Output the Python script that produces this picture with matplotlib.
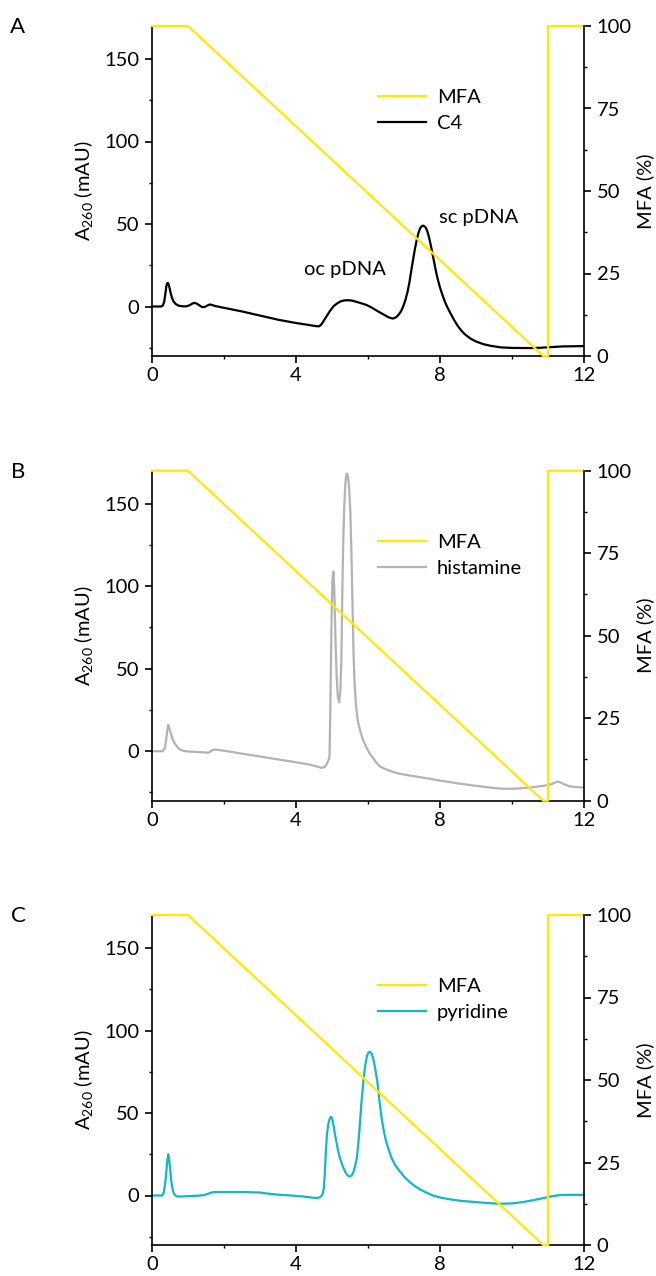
import matplotlib
matplotlib.use('Agg')
import matplotlib.pyplot as plt
from matplotlib.lines import Line2D
from matplotlib.ticker import MultipleLocator

plt.rcParams['font.family'] = ['Lato', 'DejaVu Sans']
plt.rcParams['mathtext.fontset'] = 'custom'
plt.rcParams['mathtext.rm'] = 'Lato'
plt.rcParams['mathtext.it'] = 'Lato:italic'
plt.rcParams['mathtext.bf'] = 'Lato:bold'

# ---------------- data ----------------
mfa_time = [0, 1, 10.87, 11.0, 11.0, 12]
mfa_pct = [100, 100, 0, 0, 100, 100]

c4_time = [0, 0.25, 0.30, 0.34, 0.37, 0.40, 0.42, 0.44, 0.46, 0.49, 0.52, 0.56, 0.60, 0.66,
           0.74, 0.85, 0.95, 1.05, 1.12, 1.18, 1.24, 1.32, 1.40, 1.47, 1.54, 1.60, 1.66,
           1.75, 2.0, 2.5, 3.0, 3.5, 4.0, 4.3, 4.55, 4.64, 4.70, 4.76, 4.85, 4.95, 5.05,
           5.15, 5.25, 5.35, 5.45, 5.55, 5.7, 5.85, 5.96, 6.1, 6.25, 6.43, 6.55, 6.63, 6.70,
           6.78, 6.85, 6.92, 6.98, 7.04, 7.1, 7.15, 7.2, 7.25, 7.3, 7.35, 7.4, 7.45, 7.5,
           7.54, 7.6, 7.65, 7.7, 7.75, 7.8, 7.85, 7.9, 7.95, 8.0, 8.05, 8.1, 8.15, 8.2, 8.3,
           8.4, 8.5, 8.6, 8.7, 8.85, 9.0, 9.2, 9.4, 9.7, 10.0, 10.5, 10.8, 11.1, 11.4, 12.0]
c4_mau = [0, 0, 0.5, 3, 7.5, 12.5, 14, 14.3, 13.5, 11, 8, 5, 3, 1.5,
          0.5, 0.1, 0.1, 0.8, 1.8, 2.2, 1.8, 0.6, -0.4, -0.2, 0.6, 1.2, 1.0,
          0.3, -0.8, -3, -5.5, -8, -10, -11, -11.9, -12, -11, -9, -5.9, -2.5, 0.3,
          2, 3.2, 3.7, 3.8, 3.6, 2.7, 1.7, 0.9, -0.6, -2.6, -4.8, -6.3, -7, -7.3,
          -6.5, -5, -2.8, 0.2, 4, 9, 14.5, 21.5, 28, 34.5, 40, 44.5, 47.5, 48.8,
          49, 48, 45.5, 41.5, 36.5, 31, 25.5, 20, 15.5, 11.5, 8.2, 5, 2.2, -0.3, -4.5,
          -8.5, -12, -14.8, -17, -19.5, -21.2, -22.8, -23.8, -24.8, -25.1, -25.2, -25, -24.6, -24.2, -24]

his_time = [0, 0.3, 0.36, 0.40, 0.43, 0.45, 0.47, 0.50, 0.54, 0.58, 0.63, 0.70, 0.78, 0.87,
            1.0, 1.3, 1.5, 1.56, 1.62, 1.68, 1.75, 1.9, 2.2, 2.5, 3.0, 3.5, 4.0, 4.4, 4.6,
            4.71, 4.8, 4.86, 4.90, 4.93, 4.95, 4.97, 4.99, 5.01, 5.04, 5.06, 5.08, 5.10,
            5.13, 5.16, 5.20, 5.23, 5.26, 5.29, 5.31, 5.34, 5.37, 5.40, 5.42, 5.45, 5.48,
            5.51, 5.54, 5.57, 5.60, 5.63, 5.67, 5.72, 5.80, 5.87, 5.95, 6.05, 6.15, 6.25,
            6.35, 6.5, 6.7, 6.89, 7.2, 7.44, 8.0, 8.5, 9.0, 9.5, 9.76, 10.1, 10.5, 10.87,
            11.1, 11.2, 11.27, 11.35, 11.45, 11.6, 11.8, 12.0]
his_mau = [0, 0, 2, 8, 13.5, 15.9, 15, 12.5, 9.5, 7, 4.8, 2.6, 1.0, 0.2,
           -0.2, -0.5, -0.8, -1, -0.2, 0.7, 1, 0.6, -0.4, -1.5, -3.2, -5, -6.7, -8.2, -9.4,
           -10.1, -9.5, -7.5, -5.5, -3.6, 20, 53, 82, 103, 108.9, 100, 83, 65,
           45, 33, 29.6, 36, 55, 100, 125, 148, 162, 167.5, 168.2, 166, 158,
           145, 120, 88, 58, 40, 27, 18, 11, 6.4, 2.5, -1.5, -4.5, -7.5,
           -9.5, -11, -12.6, -13.7, -14.9, -15.7, -17.8, -19.5, -21, -22.3, -22.8, -22.7, -22, -21,
           -20, -19, -18.4, -19, -20, -21.3, -21.8, -22]

pyr_time = [0, 0.28, 0.33, 0.37, 0.40, 0.43, 0.45, 0.47, 0.50, 0.53, 0.56, 0.60, 0.65, 0.70,
            0.8, 1.0, 1.3, 1.45, 1.55, 1.65, 1.75, 2.0, 2.5, 3.0, 3.2, 3.5, 3.8, 4.2, 4.45,
            4.57, 4.65, 4.70, 4.74, 4.77, 4.80, 4.83, 4.86, 4.90, 4.94, 4.97, 5.00, 5.04,
            5.08, 5.11, 5.16, 5.21, 5.27, 5.33, 5.40, 5.46, 5.50, 5.55, 5.60, 5.65, 5.69,
            5.73, 5.77, 5.82, 5.87, 5.92, 5.97, 6.02, 6.06, 6.10, 6.15, 6.20, 6.26, 6.32,
            6.38, 6.45, 6.50, 6.56, 6.65, 6.75, 6.89, 7.0, 7.15, 7.3, 7.44, 7.6, 7.8, 8.0,
            8.3, 8.6, 9.11, 9.4, 9.67, 10.0, 10.3, 10.6, 10.87, 11.1, 11.33, 11.6, 12.0]
pyr_mau = [0, 0, 2, 8, 15, 22, 25, 23, 17, 10, 5, 1.5, 0, -0.6,
           -0.6, -0.4, -0.1, 0.3, 1, 1.8, 2.1, 2.1, 2.1, 1.8, 1.2, 0.5, 0.1, -0.6, -1.3,
           -1.5, -1.2, -0.5, 1, 4, 13, 27, 37, 43.5, 46.8, 47.7, 47, 43,
           37.5, 34, 28, 23.5, 19.5, 16, 13, 11.7, 11.5, 12.3, 14.5, 18.5, 23,
           31, 42, 56.8, 69, 78.5, 84.5, 87, 87, 86, 82.5, 77, 68.9, 57,
           46.7, 38, 33, 28.6, 23, 18.5, 14.5, 11.5, 8.3, 5.7, 3.8, 2, 0, -1.2,
           -2.4, -3.3, -4.2, -4.7, -5, -4.8, -4, -2.8, -1.6, -0.5, 0.3, 0.4, 0.4]

panel_letters = ['A', 'B', 'C']
sample_names = ['C4', 'histamine', 'pyridine']
sample_colors = ['#000000', '#b3b3b3', '#12b9c2']
annot_texts = ['oc pDNA', 'sc pDNA']
annot_pos = [(5.36, 22.4), (9.07, 53.8)]

x_ticks = [0, 4, 8, 12]
left_ticks = [0, 50, 100, 150]
right_ticks = [0, 25, 50, 75, 100]

YELLOW = '#ffe900'
FS = 14.5

W, H = 656, 1276
fig = plt.figure(figsize=(W / 100, H / 100), dpi=100)

ax_left = 152 / W
ax_w = 432 / W
tops = [26, 470.7, 915]
ax_hpx = 330

series = [(c4_time, c4_mau), (his_time, his_mau), (pyr_time, pyr_mau)]

for i in range(3):
    top = tops[i]
    bottom = 1 - (top + ax_hpx) / H
    ax = fig.add_axes([ax_left, bottom, ax_w, ax_hpx / H])
    t, v = series[i]
    ax.plot(t, v, color=sample_colors[i], lw=1.6, solid_joinstyle='round')
    ax.set_xlim(0, 12)
    ax.set_ylim(-30, 170)
    ax.set_xticks(x_ticks)
    ax.xaxis.set_minor_locator(MultipleLocator(2))
    ax.set_yticks(left_ticks)
    ax.yaxis.set_minor_locator(MultipleLocator(25))
    ax.spines['top'].set_visible(False)
    ax.spines['right'].set_visible(False)
    for s in ['left', 'bottom']:
        ax.spines[s].set_linewidth(1.2)
    ax.tick_params(which='major', length=5, width=1.2, labelsize=FS, direction='out')
    ax.tick_params(which='minor', length=2.5, width=1.0, direction='out')
    ax.tick_params(axis='y', pad=4)
    ax.tick_params(axis='x', pad=3)
    ax.set_ylabel('A$_{260}$ (mAU)', fontsize=FS)
    ax.yaxis.set_label_coords((95 - 152) / 432, 0.5)

    ax2 = ax.twinx()
    ax2.plot(mfa_time, mfa_pct, color=YELLOW, lw=1.6, clip_on=False)
    ax2.set_ylim(0, 100)
    ax2.set_yticks(right_ticks)
    ax2.yaxis.set_minor_locator(MultipleLocator(12.5))
    ax2.spines['top'].set_visible(False)
    ax2.spines['left'].set_visible(False)
    ax2.spines['bottom'].set_visible(False)
    ax2.spines['right'].set_linewidth(1.2)
    ax2.tick_params(which='major', length=5, width=1.2, labelsize=FS, pad=4)
    ax2.tick_params(which='minor', length=2.5, width=1.0)
    ax2.set_ylabel('MFA (%)', fontsize=FS)
    ax2.yaxis.set_label_coords((636 - 152) / 432, 0.5)

    handles = [Line2D([], [], color=YELLOW, lw=1.6),
               Line2D([], [], color=sample_colors[i], lw=1.6)]
    ax2.legend(handles, ['MFA', sample_names[i]], loc='upper left',
               bbox_to_anchor=(0.522, 0.808), frameon=False, fontsize=FS,
               handlelength=2.4, handletextpad=0.55, borderpad=0,
               borderaxespad=0, labelspacing=0.42)

    if i == 0:
        for txt, (xx, yy) in zip(annot_texts, annot_pos):
            ax.text(xx, yy, txt, fontsize=FS, ha='center', va='center')

    fig.text(18 / W, 1 - (top + 1) / H, panel_letters[i], fontsize=FS + 1.5,
             ha='center', va='center')

fig.savefig('out.png', dpi=100)
